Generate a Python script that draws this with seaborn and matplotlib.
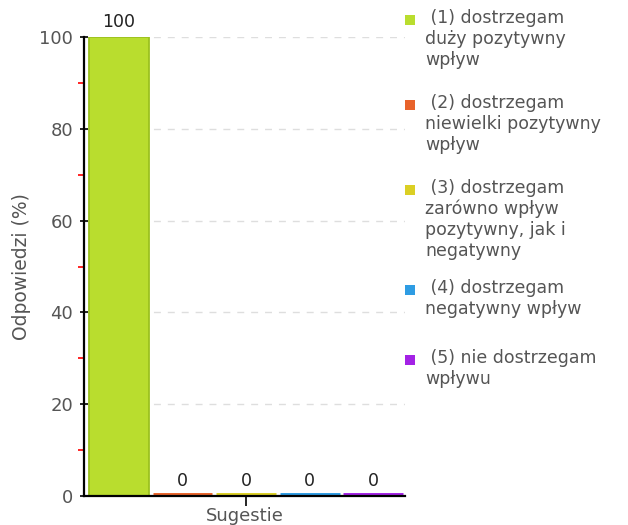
import matplotlib
matplotlib.use("Agg")
import matplotlib.pyplot as plt
from matplotlib.patches import Rectangle
from matplotlib.ticker import MultipleLocator
import seaborn as sns
import pandas as pd

# %%
categories = ["(1) dostrzegam\nduży pozytywny\nwpływ",
              "(2) dostrzegam\nniewielki pozytywny\nwpływ",
              "(3) dostrzegam\nzarówno wpływ\npozytywny, jak i\nnegatywny",
              "(4) dostrzegam\nnegatywny wpływ",
              "(5) nie dostrzegam\nwpływu"]
values = [100, 0, 0, 0, 0]
colors = ["#b9dd2e", "#e8632b", "#dbcf24", "#2e9ce3", "#a322e5"]
edge_colors = ["#9cc11f", "#e8632b", "#dbcf24", "#2e9ce3", "#a322e5"]

df = pd.DataFrame({"kategoria": categories, "wartosc": values})

# %%
sns.set_style("white")
plt.rcParams["font.family"] = ["DejaVu Sans"]

fig = plt.figure(figsize=(6.28, 5.25), dpi=100)
ax = fig.add_axes([0.1338, 0.0552, 0.5112, 0.8743])

ax.yaxis.grid(True, color="#dedede", linestyle=(0, (5, 5)), linewidth=1)
ax.set_axisbelow(True)

sns.barplot(data=df, x="kategoria", y="wartosc", hue="kategoria",
            palette=colors, saturation=1, width=0.94, dodge=False,
            legend=False, ax=ax)

for p, ec, v in zip(ax.patches, edge_colors, values):
    p.set_edgecolor(ec)
    p.set_joinstyle("miter")
    p.set_capstyle("butt")
    if v == 0:
        p.set_linewidth(5)
    else:
        p.set_linewidth(1.3)

for i, v in enumerate(values):
    ax.text(i, v + 1.3, str(v), ha="center", va="bottom", fontsize=12.5, color="#222222")

ax.set_ylim(0, 100)
ax.set_xlim(-0.55, 4.5)
ax.yaxis.set_major_locator(MultipleLocator(20))
ax.yaxis.set_minor_locator(MultipleLocator(10))
ax.tick_params(axis="y", which="major", left=True, direction="inout", length=6, width=1.2,
               colors="black", labelcolor="#555555", labelsize=13, pad=5)
ax.tick_params(axis="y", which="minor", left=True, direction="out", length=4, width=1.2,
               colors="red")
ax.set_xticks([2])
ax.set_xticklabels([""])
ax.tick_params(axis="x", bottom=True, direction="out", length=7, width=1.2, colors="black")

for s in ["top", "right"]:
    ax.spines[s].set_visible(False)
for s in ["left", "bottom"]:
    ax.spines[s].set_color("black")
    ax.spines[s].set_linewidth(1.6)
    ax.spines[s].set_zorder(5)

ax.set_xlabel("Sugestie", fontsize=13, color="#555555")
ax.xaxis.set_label_coords(0.5, -0.023)
ax.set_ylabel("Odpowiedzi (%)", fontsize=13.5, color="#555555")
ax.yaxis.set_label_coords(-0.165, 0.5)

# legenda po prawej, kwadrat przy pierwszej linii
first_line_y = [20, 105, 190, 290, 360]
for lab, col, yy in zip(categories, colors, first_line_y):
    fig.patches.append(Rectangle((405 / 628, 1 - (yy + 5) / 525), 10 / 628, 10 / 525,
                                 transform=fig.transFigure, facecolor=col,
                                 edgecolor="none", figure=fig))
    fig.text(425 / 628, 1 - (yy - 11) / 525, " " + lab, ha="left", va="top",
             fontsize=12.5, color="#555555", linespacing=1.2)

fig.savefig("out.png", dpi=100)
